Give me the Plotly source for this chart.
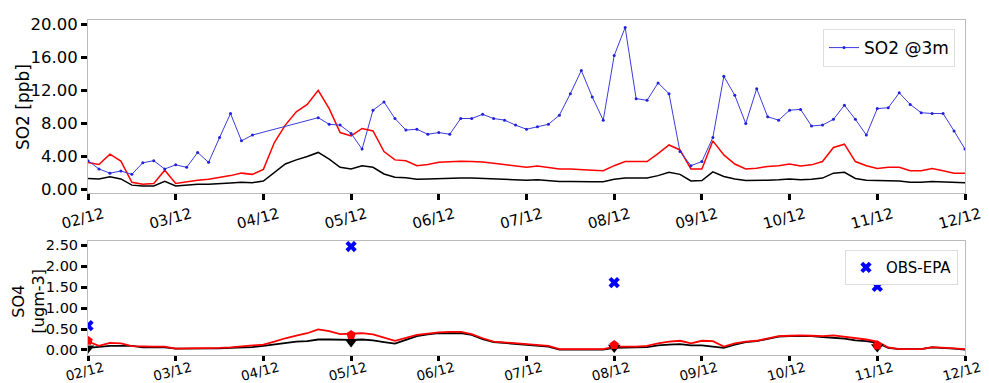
import pandas as pd
import plotly.graph_objects as go
from plotly.subplots import make_subplots

# 3-hourly time axis, 02/12 00h .. 12/12 00h
times = pd.date_range("2019-12-02 00:00", periods=81, freq="3h")

# SO2 [ppb] - observed at 3m (gap 02/12 21h .. 04/12 15h missing)
so2_obs = [3.5, 2.5, 2.0, 2.25, 1.85, 3.25, 3.5, 2.5,
           3.0, 2.7, 4.5, 3.3, 6.3, 9.2, 5.9, 6.6,
           None, None, None, None, None, 8.7, 7.9, 7.8,
           6.8, 4.9, 9.6, 10.6, 8.6, 7.2, 7.3, 6.7,
           6.9, 6.7, 8.6, 8.6, 9.1, 8.6, 8.4, 7.8,
           7.3, 7.6, 7.9, 9.0, 11.6, 14.4, 11.2, 8.4,
           16.2, 19.6, 11.0, 10.8, 12.9, 11.6, 4.6, 2.9,
           3.4, 6.3, 13.7, 11.4, 8.0, 12.2, 8.8, 8.4,
           9.6, 9.7, 7.7, 7.8, 8.5, 10.2, 8.5, 6.6,
           9.8, 9.9, 11.7, 10.3, 9.3, 9.2, 9.2, 7.1,
           4.9]

so2_red = [3.3, 3.05, 4.3, 3.45, 0.9, 0.65, 0.75, 2.35,
           0.75, 0.95, 1.15, 1.25, 1.45, 1.7, 2.0, 1.85,
           2.45, 5.7, 7.8, 9.4, 10.3, 12.0, 9.8, 6.9,
           6.5, 7.4, 7.1, 4.6, 3.6, 3.5, 2.9, 3.05,
           3.3, 3.4, 3.45, 3.4, 3.35, 3.2, 3.05, 2.9,
           2.7, 2.85, 2.65, 2.5, 2.5, 2.4, 2.35, 2.3,
           2.9, 3.4, 3.4, 3.4, 4.35, 5.4, 4.8, 2.5,
           2.5, 5.9, 4.2, 3.1, 2.5, 2.6, 2.8, 2.9,
           3.1, 2.85, 3.0, 3.4, 5.1, 5.5, 3.4, 2.9,
           2.55, 2.7, 2.7, 2.3, 2.3, 2.55, 2.3, 2.0,
           2.0]

so2_black = [1.35, 1.3, 1.55, 1.3, 0.55, 0.45, 0.45, 1.0,
             0.45, 0.55, 0.65, 0.65, 0.7, 0.8, 0.9, 0.85,
             1.05, 2.1, 3.1, 3.6, 4.0, 4.5, 3.7, 2.7,
             2.5, 2.9, 2.7, 1.9, 1.5, 1.45, 1.25, 1.3,
             1.35, 1.4, 1.4, 1.4, 1.35, 1.3, 1.25, 1.2,
             1.15, 1.2, 1.1, 1.0, 1.0, 0.95, 0.95, 0.95,
             1.25, 1.4, 1.4, 1.4, 1.7, 2.1, 1.85, 1.05,
             1.1, 2.15, 1.6, 1.3, 1.1, 1.1, 1.15, 1.2,
             1.3, 1.2, 1.25, 1.4, 2.0, 2.1, 1.35, 1.15,
             1.1, 1.1, 1.05, 0.9, 0.9, 1.0, 0.95, 0.85,
             0.85]

# SO4 [ugm-3]
so4_red = [0.2, 0.1, 0.17, 0.16, 0.09, 0.08, 0.08, 0.08,
           0.03, 0.04, 0.04, 0.04, 0.05, 0.06, 0.08, 0.1,
           0.13, 0.2, 0.28, 0.34, 0.4, 0.49, 0.45, 0.38,
           0.39, 0.4, 0.37, 0.3, 0.22, 0.29, 0.36, 0.39,
           0.42, 0.43, 0.43, 0.38, 0.28, 0.2, 0.18, 0.16,
           0.14, 0.12, 0.1, 0.02, 0.02, 0.01, 0.02, 0.02,
           0.08, 0.08, 0.08, 0.1, 0.16, 0.2, 0.22, 0.16,
           0.22, 0.21, 0.08, 0.16, 0.2, 0.22, 0.28, 0.33,
           0.34, 0.35, 0.34, 0.33, 0.35, 0.32, 0.28, 0.25,
           0.2, 0.06, 0.02, 0.02, 0.02, 0.07, 0.06, 0.04,
           0.02]

so4_black = [0.05, 0.08, 0.1, 0.1, 0.1, 0.06, 0.06, 0.06,
             0.03, 0.03, 0.04, 0.04, 0.04, 0.05, 0.06, 0.07,
             0.1, 0.13, 0.17, 0.2, 0.21, 0.25, 0.25, 0.24,
             0.24, 0.25, 0.23, 0.19, 0.15, 0.24, 0.33, 0.37,
             0.4, 0.4, 0.4, 0.36, 0.26, 0.19, 0.17, 0.14,
             0.13, 0.1, 0.08, 0.01, 0.01, 0.01, 0.01, 0.01,
             0.05, 0.05, 0.06, 0.07, 0.11, 0.13, 0.14, 0.11,
             0.11, 0.08, 0.05, 0.13, 0.19, 0.21, 0.27, 0.32,
             0.33, 0.33, 0.33, 0.31, 0.29, 0.27, 0.23, 0.21,
             0.17, 0.05, 0.02, 0.02, 0.02, 0.06, 0.05, 0.03,
             0.01]

# EPA observations and model values on the same days
obs_days = ["2019-12-02", "2019-12-05", "2019-12-08", "2019-12-11"]
so4_epa = [0.58, 2.47, 1.61, 1.52]
so4_red_day = [0.22, 0.36, 0.12, 0.11]
so4_black_day = [0.04, 0.19, 0.06, 0.07]

FONT = "DejaVu Sans"

fig = make_subplots(rows=2, cols=1, shared_xaxes=False, vertical_spacing=0.0)

fig.add_trace(go.Scatter(x=times, y=so2_black, mode="lines",
                         line=dict(color="black", width=1.5), showlegend=False), row=1, col=1)
fig.add_trace(go.Scatter(x=times, y=so2_red, mode="lines",
                         line=dict(color="red", width=1.5), showlegend=False), row=1, col=1)
fig.add_trace(go.Scatter(x=times, y=so2_obs, mode="lines+markers", name="SO2 @3m",
                         connectgaps=True, line=dict(color="#3b3bdd", width=1),
                         marker=dict(color="#2020dd", size=3), legend="legend"), row=1, col=1)

fig.add_trace(go.Scatter(x=times, y=so4_black, mode="lines",
                         line=dict(color="black", width=1.8), showlegend=False), row=2, col=1)
fig.add_trace(go.Scatter(x=times, y=so4_red, mode="lines",
                         line=dict(color="red", width=1.8), showlegend=False), row=2, col=1)
fig.add_trace(go.Scatter(x=obs_days, y=so4_black_day, mode="markers",
                         marker=dict(symbol="triangle-down", color="black", size=11),
                         showlegend=False), row=2, col=1)
fig.add_trace(go.Scatter(x=obs_days, y=so4_red_day, mode="markers",
                         marker=dict(symbol="pentagon", color="red", size=10),
                         showlegend=False), row=2, col=1)
fig.add_trace(go.Scatter(x=obs_days, y=so4_epa, mode="markers", name="OBS-EPA",
                         marker=dict(symbol="x", color="blue", size=10),
                         legend="legend2"), row=2, col=1)

xrange = ["2019-12-02", "2019-12-12"]
axis_common = dict(showline=True, mirror=True, linecolor="#bbbbbb", linewidth=1,
                   showgrid=False, zeroline=False, ticks="outside", ticklen=6,
                   tickwidth=3, tickcolor="black", automargin=False)

fig.update_xaxes(range=xrange, dtick=86400000, tickformat="%d/%m", tickangle=-15,
                 tick0="2019-12-02", ticklabelshift=15, **axis_common)
fig.update_yaxes(**axis_common)

fig.update_xaxes(domain=[0, 1], tickfont=dict(family=FONT, size=15, color="black"),
                 row=1, col=1)
fig.update_xaxes(domain=[0, 1], tickfont=dict(family=FONT, size=13.5, color="black"),
                 ticklen=5, ticklabelstandoff=-6, row=2, col=1)
fig.update_yaxes(domain=[0.4836, 1.0], range=[-0.4, 20.5], dtick=4, tickformat=".2f",
                 tickfont=dict(family=FONT, size=16.5, color="black"), row=1, col=1)
fig.update_yaxes(domain=[0.0, 0.340], range=[-0.12, 2.6], dtick=0.5, tickformat=".2f",
                 tickfont=dict(family=FONT, size=14.5, color="black"), row=2, col=1)

# y-axis titles
fig.add_annotation(text="SO2 [ppb]", xref="paper", yref="paper", x=-0.0741, y=0.740,
                   textangle=-90, showarrow=False, xanchor="center", yanchor="middle",
                   font=dict(family=FONT, size=17, color="black"))
fig.add_annotation(text="SO4<br>[ugm-3]", xref="paper", yref="paper", x=-0.0673, y=0.16,
                   textangle=-90, showarrow=False, xanchor="center", yanchor="middle",
                   font=dict(family=FONT, size=16, color="black"))

fig.update_layout(
    width=989, height=383,
    margin=dict(l=80, r=32, t=12, b=36),
    plot_bgcolor="white", paper_bgcolor="white",
    font=dict(family=FONT, size=14, color="black"),
    legend=dict(x=0.9886, y=0.973, xanchor="right", yanchor="top", itemwidth=30,
                bordercolor="#dddddd", borderwidth=1, bgcolor="white",
                font=dict(family=FONT, size=17, color="black")),
    legend2=dict(x=0.992, y=0.313, xanchor="right", yanchor="top", itemwidth=30,
                 bordercolor="#dddddd", borderwidth=1, bgcolor="white",
                 font=dict(family=FONT, size=15, color="black")),
)

fig.write_html("out.html")
